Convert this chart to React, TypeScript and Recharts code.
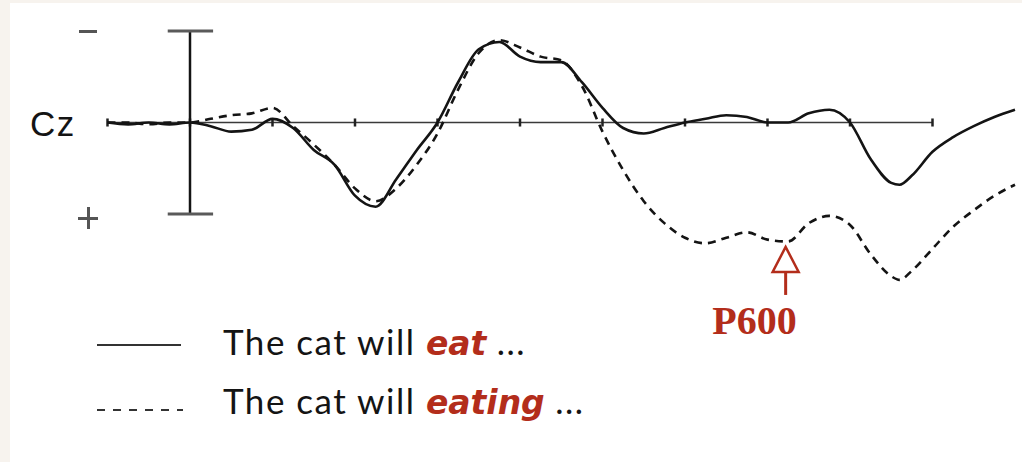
import React from "react";
import { LineChart, Line, XAxis, YAxis, ReferenceLine, ReferenceDot } from "recharts";

// ERP at Cz, time in ms, amplitude in µV (negative plotted up)
const times = [
  -100, -75, -50, -25, 0, 25, 50, 75, 100, 125, 150, 175, 200, 225, 250, 275, 300, 325, 350, 375,
  400, 425, 450, 475, 500, 525, 550, 575, 600, 625, 650, 675, 700, 725, 750, 775, 800, 825, 850,
  860, 875, 900, 925, 950, 975, 1000,
];
const eatValues = [
  0, 0.1, 0, 0.1, 0, 0.2, 0.5, 0.4, -0.2, 0.3, 1.5, 2.3, 4.0, 4.6, 3.1, 1.5, 0, -2.2, -4.0, -4.4,
  -3.6, -3.3, -3.3, -2.2, -0.8, 0.3, 0.6, 0.3, 0, -0.2, -0.4, -0.3, 0, 0, -0.5, -0.7, 0, 2.0, 3.3,
  3.4, 2.9, 1.6, 0.8, 0.2, -0.3, -0.7,
];
const eatingValues = [
  0, 0, 0.1, 0, 0, -0.2, -0.4, -0.5, -0.8, 0.2, 1.2, 2.3, 3.6, 4.3, 3.6, 2.3, 0.6, -1.8, -3.8, -4.5,
  -4.1, -3.6, -3.4, -2.0, 0.5, 2.6, 4.3, 5.5, 6.3, 6.6, 6.3, 6.0, 6.4, 6.5, 5.5, 5.1, 5.6, 7.2, 8.4,
  8.6, 8.1, 6.9, 5.7, 4.8, 4.0, 3.4,
];
const tickTimes = [-100, 0, 100, 200, 300, 400, 500, 600, 700, 800, 900];
const axisStart = -100;
const axisEnd = 900;
const scaleBar = 5; // ±5 µV
const p600 = { t: 722, v: 6.8 };

const data = times.map((t, i) => ({ t, eat: eatValues[i], eating: eatingValues[i] }));

const RED = "#b32d1b";
const INK = "#141414";

const P600Marker = (props: any) => {
  const { cx, cy } = props;
  if (cx == null || cy == null) return <g />;
  return (
    <g>
      <path
        d={`M${cx},${cy} L${cx - 13},${cy + 25} L${cx + 13},${cy + 25} Z`}
        fill="none"
        stroke={RED}
        strokeWidth={2.5}
      />
      <line x1={cx} y1={cy + 25} x2={cx} y2={cy + 48} stroke={RED} strokeWidth={3} />
      <text
        x={cx + 11}
        y={cy + 87}
        textAnchor="end"
        fill={RED}
        fontFamily="'Liberation Serif', 'DejaVu Serif', serif"
        fontWeight="bold"
        fontSize={40}
      >
        P600
      </text>
    </g>
  );
};

export default function App() {
  const labelFont = "'Liberation Sans', Arial, sans-serif";
  const legendFont = "Lato, 'Open Sans', sans-serif";
  const verbStyle: React.CSSProperties = {
    color: RED,
    fontFamily: "'DejaVu Sans', sans-serif",
    fontWeight: "bold",
    fontStyle: "italic",
    fontSize: 33,
    letterSpacing: 0,
  };
  const legendText: React.CSSProperties = {
    position: "absolute",
    left: 223,
    fontFamily: legendFont,
    fontSize: 35,
    letterSpacing: 1.5,
    color: INK,
    whiteSpace: "nowrap",
  };
  return (
    <div style={{ position: "fixed", left: 0, top: 0, width: 1022, height: 462, background: "#f7f3ee" }}>
      <div style={{ position: "absolute", left: 10, top: 3, right: 0, bottom: 0, background: "#ffffff" }} />

      {/* channel and polarity labels */}
      <div style={{ position: "absolute", left: 30, top: 104, fontFamily: labelFont, fontSize: 35, color: INK, letterSpacing: 1.5 }}>
        Cz
      </div>
      <div style={{ position: "absolute", left: 79, top: 30, width: 18, height: 3, background: "#555" }} />
      <div style={{ position: "absolute", left: 78, top: 217, width: 20, height: 3, background: "#555" }} />
      <div style={{ position: "absolute", left: 86.5, top: 207, width: 3, height: 22, background: "#555" }} />

      <div style={{ position: "absolute", left: 0, top: 0 }}>
        <LineChart width={1022} height={462} data={data} margin={{ top: 31, left: 107.5, right: 7, bottom: 174.8 }}>
          <XAxis dataKey="t" type="number" domain={[-100, 1000]} hide />
          <YAxis type="number" domain={[-5, 9]} reversed hide />

          {/* time axis drawn at 0 µV */}
          <ReferenceLine
            segment={[{ x: axisStart, y: 0 }, { x: axisEnd, y: 0 }]}
            stroke="#3a3a3a"
            strokeWidth={1.6}
            ifOverflow="visible"
          />
          {tickTimes.map((t) => (
            <ReferenceLine
              key={`tick-${t}`}
              segment={[{ x: t, y: -0.22 }, { x: t, y: 0.22 }]}
              stroke="#222"
              strokeWidth={2.5}
              ifOverflow="visible"
            />
          ))}

          {/* calibration bar */}
          <ReferenceLine
            segment={[{ x: 0, y: -scaleBar }, { x: 0, y: scaleBar }]}
            stroke={INK}
            strokeWidth={2.5}
            ifOverflow="visible"
          />
          {[-scaleBar, scaleBar].map((v) => (
            <ReferenceLine
              key={`cap-${v}`}
              segment={[{ x: -27, y: v }, { x: 28, y: v }]}
              stroke="#5a5a5a"
              strokeWidth={3}
              ifOverflow="visible"
            />
          ))}

          <Line
            type="monotone"
            dataKey="eating"
            stroke={INK}
            strokeWidth={2.6}
            strokeDasharray="8 6"
            dot={false}
            isAnimationActive={false}
          />
          <Line
            type="monotone"
            dataKey="eat"
            stroke={INK}
            strokeWidth={2.6}
            dot={false}
            isAnimationActive={false}
          />

          <ReferenceDot x={p600.t} y={p600.v} r={0} shape={P600Marker} ifOverflow="visible" />
        </LineChart>
      </div>

      {/* legend */}
      <svg style={{ position: "absolute", left: 0, top: 0 }} width={1022} height={462}>
        <line x1={97} y1={345} x2={181} y2={345} stroke="#333" strokeWidth={2} />
        <line x1={97} y1={410} x2={183} y2={410} stroke="#333" strokeWidth={2} strokeDasharray="8 8" />
      </svg>
      <div style={{ ...legendText, top: 320 }}>
        The cat will <span style={verbStyle}>eat</span> ...
      </div>
      <div style={{ ...legendText, top: 379 }}>
        The cat will <span style={verbStyle}>eating</span> ...
      </div>
    </div>
  );
}
